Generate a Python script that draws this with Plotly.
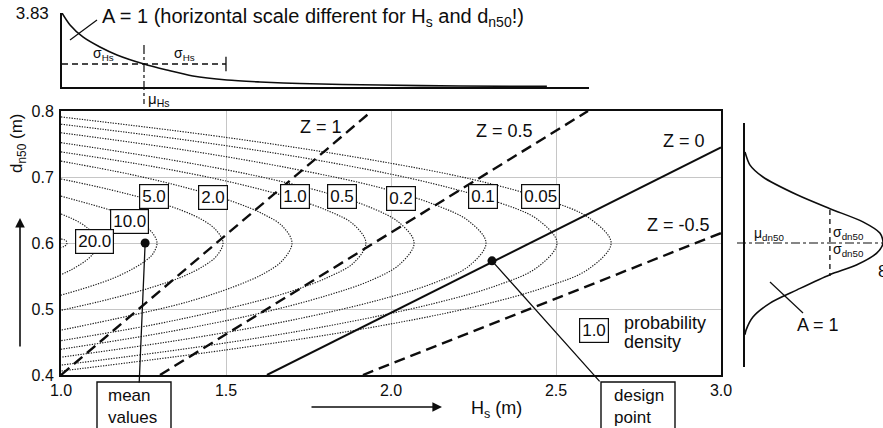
import plotly.graph_objects as go

W, H = 883, 428
FONT = "Liberation Sans, Arial, Helvetica, sans-serif"
INK = "#0d0d0d"

# ----------------------------- data -----------------------------
HS_TICKS = [1.0, 1.5, 2.0, 2.5, 3.0]
HS_TICK_TEXT = ["1.0", "1.5", "2.0", "2.5", "3.0"]
DN_TICKS = [0.4, 0.5, 0.6, 0.7, 0.8]
DN_TICK_TEXT = ["0.4", "0.5", "0.6", "0.7", "0.8"]

# iso-probability-density contours: upper arm -> tip (dn50 = 0.6) -> lower arm
HS_005 = [1.000, 1.500, 1.917, 2.250, 2.467, 2.600, 2.667, 2.600, 2.467, 2.250, 1.917, 1.500, 1.000]
DN_005 = [0.791, 0.760, 0.728, 0.696, 0.666, 0.638, 0.600, 0.561, 0.533, 0.503, 0.470, 0.438, 0.406]
HS_01 = [1.000, 1.451, 1.827, 2.127, 2.323, 2.443, 2.503, 2.443, 2.323, 2.127, 1.827, 1.451, 1.000]
DN_01 = [0.780, 0.751, 0.721, 0.690, 0.662, 0.636, 0.600, 0.563, 0.536, 0.508, 0.476, 0.445, 0.415]
HS_02 = [1.000, 1.386, 1.708, 1.966, 2.133, 2.236, 2.288, 2.236, 2.133, 1.966, 1.708, 1.386, 1.000]
DN_02 = [0.767, 0.740, 0.712, 0.684, 0.658, 0.633, 0.600, 0.565, 0.540, 0.514, 0.484, 0.455, 0.427]
HS_05 = [1.000, 1.321, 1.589, 1.803, 1.942, 2.027, 2.070, 2.027, 1.942, 1.803, 1.589, 1.321, 1.000]
DN_05 = [0.752, 0.727, 0.702, 0.676, 0.653, 0.630, 0.600, 0.568, 0.544, 0.520, 0.492, 0.465, 0.439]
HS_1 = [1.000, 1.277, 1.508, 1.693, 1.813, 1.887, 1.924, 1.887, 1.813, 1.693, 1.508, 1.277, 1.000]
DN_1 = [0.738, 0.716, 0.693, 0.669, 0.648, 0.628, 0.600, 0.570, 0.549, 0.526, 0.501, 0.476, 0.452]
HS_2 = [1.000, 1.210, 1.385, 1.525, 1.616, 1.672, 1.700, 1.672, 1.616, 1.525, 1.385, 1.210, 1.000]
DN_2 = [0.724, 0.704, 0.683, 0.662, 0.643, 0.625, 0.600, 0.574, 0.554, 0.534, 0.511, 0.490, 0.468]
HS_5 = [1.000, 1.147, 1.270, 1.368, 1.432, 1.471, 1.491, 1.471, 1.432, 1.368, 1.270, 1.147, 1.000]
DN_5 = [0.697, 0.681, 0.665, 0.649, 0.634, 0.619, 0.600, 0.580, 0.565, 0.549, 0.532, 0.515, 0.498]
HS_10 = [1.000, 1.087, 1.160, 1.218, 1.256, 1.279, 1.291, 1.279, 1.256, 1.218, 1.160, 1.087, 1.000]
DN_10 = [0.671, 0.659, 0.648, 0.636, 0.625, 0.614, 0.600, 0.584, 0.573, 0.561, 0.547, 0.534, 0.521]
HS_20 = [1.000, 1.033, 1.060, 1.082, 1.096, 1.105, 1.109, 1.105, 1.096, 1.082, 1.060, 1.033, 1.000]
DN_20 = [0.644, 0.637, 0.630, 0.622, 0.615, 0.609, 0.600, 0.590, 0.583, 0.576, 0.568, 0.560, 0.552]
HS_INNER = [1.000, 1.010, 1.016, 1.018, 1.016, 1.010, 1.000]
DN_INNER = [0.606, 0.605, 0.603, 0.600, 0.597, 0.595, 0.593]

CONTOUR_LABELS = ["0.05", "0.1", "0.2", "0.5", "1.0", "2.0", "5.0", "10.0", "20.0"]
LABEL_HS = [2.453, 2.279, 2.029, 1.850, 1.708, 1.462, 1.282, 1.208, 1.102]
LABEL_DN = [0.670, 0.670, 0.668, 0.670, 0.671, 0.669, 0.671, 0.633, 0.602]
LEGEND_LABEL = "1.0"
LEGEND_HS, LEGEND_DN = 2.615, 0.468

# limit-state lines
Z_LABELS = ["Z = 1", "Z = 0.5", "Z = 0", "Z = -0.5"]
Z_HS_START = [1.000, 1.300, 1.624, 1.915]
Z_DN_START = [0.400, 0.400, 0.400, 0.400]
Z_HS_END = [1.942, 2.597, 3.000, 3.000]
Z_DN_END = [0.800, 0.800, 0.745, 0.615]
Z_LABEL_HS = [1.788, 2.345, 2.888, 2.870]
Z_LABEL_DN = [0.776, 0.769, 0.755, 0.627]

MEAN_HS, MEAN_DN = 1.255, 0.600
DESIGN_HS, DESIGN_DN = 2.306, 0.573

# marginal density of Hs (top panel, own horizontal scale)
HS_PDF_X = [1.000, 1.025, 1.065, 1.118, 1.171, 1.255, 1.326, 1.407, 1.513, 1.616, 1.740, 1.989, 2.238, 2.508]
HS_PDF_Y = [3.83, 3.21, 2.59, 2.07, 1.66, 1.19, 0.88, 0.57, 0.36, 0.26, 0.18, 0.10, 0.05, 0.03]
HS_PDF_PEAK = 3.83
MU_HS_TOP = 1.255
SIGMA_HS_TOP = 0.255
HS_PDF_AT_MU = 1.19

# marginal density of dn50 (right panel)
DN_PDF_DN = [0.738, 0.718, 0.700, 0.673, 0.652, 0.632, 0.615, 0.600, 0.585, 0.567, 0.552, 0.529, 0.509, 0.488, 0.468, 0.461]
DN_PDF_VAL = [0.00, 0.29, 1.04, 3.01, 4.91, 6.82, 7.80, 7.98, 7.63, 6.47, 4.91, 3.01, 1.45, 0.46, 0.06, 0.00]
MU_DN = 0.600
SIGMA_DN = 0.050
DN_PDF_AT_SIGMA = 4.91
DN_PDF_PEAK = 7.98

# ----------------------------- helpers (layout positions) -----------------------------
def X(px):
    return px / W


def Y(py):
    return 1 - py / H


CONTOURS = [(HS_005, DN_005), (HS_01, DN_01), (HS_02, DN_02), (HS_05, DN_05), (HS_1, DN_1),
            (HS_2, DN_2), (HS_5, DN_5), (HS_10, DN_10), (HS_20, DN_20), (HS_INNER, DN_INNER)]

fig = go.Figure()

for hs, dn in CONTOURS:
    fig.add_trace(go.Scatter(
        x=hs, y=dn, mode="lines", hoverinfo="skip", showlegend=False,
        line=dict(color="#1a1a1a", width=1.15, dash="1.3px,1.3px", shape="spline", smoothing=1.0)))

for i in range(len(Z_LABELS)):
    solid = Z_LABELS[i] == "Z = 0"
    fig.add_trace(go.Scatter(
        x=[Z_HS_START[i], Z_HS_END[i]], y=[Z_DN_START[i], Z_DN_END[i]],
        mode="lines", hoverinfo="skip", showlegend=False,
        line=dict(color=INK, width=2.0 if solid else 2.4, dash="solid" if solid else "11px,6px")))

fig.add_trace(go.Scatter(x=[MEAN_HS, DESIGN_HS], y=[MEAN_DN, DESIGN_DN], mode="markers",
                         marker=dict(color=INK, size=9), hoverinfo="skip", showlegend=False))

# top panel: density of Hs
fig.add_trace(go.Scatter(x=HS_PDF_X, y=HS_PDF_Y, xaxis="x2", yaxis="y2", mode="lines",
                         line=dict(color=INK, width=1.6, shape="spline", smoothing=0.8),
                         hoverinfo="skip", showlegend=False))
fig.add_trace(go.Scatter(x=[MU_HS_TOP - SIGMA_HS_TOP, MU_HS_TOP + SIGMA_HS_TOP],
                         y=[HS_PDF_AT_MU, HS_PDF_AT_MU], xaxis="x2", yaxis="y2", mode="lines",
                         line=dict(color=INK, width=1.3, dash="6px,4px"), hoverinfo="skip", showlegend=False))
fig.add_trace(go.Scatter(x=[MU_HS_TOP + SIGMA_HS_TOP, MU_HS_TOP + SIGMA_HS_TOP],
                         y=[HS_PDF_AT_MU - 0.37, HS_PDF_AT_MU + 0.37], xaxis="x2", yaxis="y2", mode="lines",
                         line=dict(color=INK, width=1.3), hoverinfo="skip", showlegend=False))

# right panel: density of dn50
fig.add_trace(go.Scatter(x=DN_PDF_VAL, y=DN_PDF_DN, xaxis="x3", yaxis="y3", mode="lines",
                         line=dict(color=INK, width=1.6, shape="spline", smoothing=0.8),
                         hoverinfo="skip", showlegend=False))
fig.add_trace(go.Scatter(x=[DN_PDF_AT_SIGMA, DN_PDF_AT_SIGMA], y=[MU_DN + SIGMA_DN, MU_DN - SIGMA_DN],
                         xaxis="x3", yaxis="y3", mode="lines",
                         line=dict(color=INK, width=1.3, dash="5px,4px"), hoverinfo="skip", showlegend=False))

shapes = [
    # mu_Hs dash-dot marker (top panel)
    dict(type="line", xref="x2", yref="paper", x0=MU_HS_TOP, x1=MU_HS_TOP, y0=Y(45), y1=Y(104),
         line=dict(color=INK, width=1.2, dash="dashdot")),
    # mu_dn50 dash-dot marker (right panel)
    dict(type="line", xref="paper", yref="y3", x0=X(737), x1=1.0, y0=MU_DN, y1=MU_DN,
         line=dict(color=INK, width=1.2, dash="dashdot")),
    # pointer lines for A = 1
    dict(type="line", xref="paper", yref="paper", x0=X(70), y0=Y(40), x1=X(97), y1=Y(20),
         line=dict(color=INK, width=1.2)),
    dict(type="line", xref="paper", yref="paper", x0=X(770), y0=Y(282), x1=X(803), y1=Y(313),
         line=dict(color=INK, width=1.2)),
    # callout boxes
    dict(type="rect", xref="paper", yref="paper", x0=X(97), x1=X(171), y0=Y(382), y1=Y(445),
         line=dict(color=INK, width=1.4), fillcolor="white"),
    dict(type="rect", xref="paper", yref="paper", x0=X(601), x1=X(675), y0=Y(382), y1=Y(445),
         line=dict(color=INK, width=1.4), fillcolor="white"),
]

annotations = []


def txt(text, x, y, size=16, xanchor="center", yanchor="middle", xref="paper", yref="paper", **kw):
    annotations.append(dict(text=text, x=x, y=y, xref=xref, yref=yref, xanchor=xanchor,
                            yanchor=yanchor, showarrow=False, font=dict(size=size, color=INK, family=FONT), **kw))


# contour labels
for lab, hx, dy in zip(CONTOUR_LABELS, LABEL_HS, LABEL_DN):
    txt(lab, hx, dy, size=17, xref="x", yref="y", bgcolor="white", bordercolor=INK,
        borderwidth=1.2, borderpad=2)
txt(LEGEND_LABEL, LEGEND_HS, LEGEND_DN, size=17, xref="x", yref="y", bgcolor="white",
    bordercolor=INK, borderwidth=1.2, borderpad=2)
txt("probability", X(622), Y(323), size=18, xanchor="left")
txt("density", X(622), Y(342), size=18, xanchor="left")

for lab, hx, dy in zip(Z_LABELS, Z_LABEL_HS, Z_LABEL_DN):
    txt(lab, hx, dy, size=18, xref="x", yref="y")

# axis titles and arrows
txt("H<sub>s</sub> (m)", X(497), Y(409), size=18)
txt("d<sub>n50</sub> (m)", X(18), Y(143), size=17, textangle=-90)
annotations.append(dict(x=X(20), y=Y(218), xref="paper", yref="paper", ax=0, ay=130, text="",
                        showarrow=True, arrowhead=2, arrowsize=1.2, arrowwidth=1.6, arrowcolor=INK))
annotations.append(dict(x=X(442), y=Y(407), xref="paper", yref="paper", ax=-132, ay=0, text="",
                        showarrow=True, arrowhead=2, arrowsize=1.2, arrowwidth=1.6, arrowcolor=INK))

# callouts
txt("mean<br>values", X(106), Y(406), size=17, xanchor="left", align="left")
txt("design<br>point", X(612), Y(406), size=17, xanchor="left", align="left")
annotations.append(dict(x=MEAN_HS, y=MEAN_DN, xref="x", yref="y", ax=-6, ay=141, text="",
                        showarrow=True, arrowhead=0, arrowwidth=1.3, arrowcolor=INK,
                        standoff=0, startstandoff=0))
annotations.append(dict(x=DESIGN_HS, y=DESIGN_DN, xref="x", yref="y", ax=109, ay=122, text="",
                        showarrow=True, arrowhead=0, arrowwidth=1.3, arrowcolor=INK,
                        standoff=0, startstandoff=0))

# top panel texts
txt("A = 1 (horizontal scale different for H<sub>s</sub> and d<sub>n50</sub>!)", X(100), Y(18),
    size=20, xanchor="left")
txt("σ<sub>Hs</sub>", MU_HS_TOP - SIGMA_HS_TOP / 2, Y(54), size=14, xref="x2")
txt("σ<sub>Hs</sub>", MU_HS_TOP + SIGMA_HS_TOP / 2, Y(54), size=14, xref="x2")
txt("μ<sub>Hs</sub>", MU_HS_TOP, Y(99), size=15, xref="x2", xanchor="left", xshift=2)

# right panel texts
txt("μ<sub>dn50</sub>", X(752), Y(234), size=14, xanchor="left")
txt("σ<sub>dn50</sub>", X(831), Y(233), size=14, xanchor="left")
txt("σ<sub>dn50</sub>", X(831), Y(250), size=14, xanchor="left")
txt("A = 1", X(818), Y(325), size=18)
txt("8", X(876), Y(271), size=17, xanchor="left")

grid = "#c6c6c6"
fig.update_layout(
    template="none",
    width=W, height=H, margin=dict(l=0, r=0, t=0, b=0, pad=0), autosize=False,
    paper_bgcolor="white", plot_bgcolor="white", showlegend=False,
    font=dict(family=FONT, color=INK),
    xaxis=dict(domain=[X(61), X(721)], range=[1.0, 3.0], tickvals=HS_TICKS, ticktext=HS_TICK_TEXT,
               showgrid=True, gridcolor=grid, gridwidth=1, zeroline=False, showline=True, mirror=True,
               linecolor=INK, linewidth=2, ticks="", tickfont=dict(size=16, color=INK),
               ticklabelstandoff=0, anchor="y", automargin=False),
    yaxis=dict(domain=[Y(375), Y(111)], range=[0.4, 0.8], tickvals=DN_TICKS, ticktext=DN_TICK_TEXT,
               showgrid=True, gridcolor=grid, gridwidth=1, zeroline=False, showline=True, mirror=True,
               linecolor=INK, linewidth=2, ticks="", tickfont=dict(size=16, color=INK),
               ticklabelstandoff=2, anchor="x", automargin=False),
    xaxis2=dict(domain=[X(62), X(589)], range=[1.0, 2.639], showline=True, linecolor=INK, linewidth=1.6,
                showgrid=False, zeroline=False, showticklabels=False, ticks="", anchor="y2",
                automargin=False),
    yaxis2=dict(domain=[Y(87), Y(13)], range=[0, HS_PDF_PEAK], showline=True, linecolor=INK, linewidth=1.6,
                showgrid=False, zeroline=False, tickvals=[HS_PDF_PEAK], ticktext=["3.83"], ticks="",
                tickfont=dict(size=17, color=INK), ticklabelstandoff=8, anchor="x2", automargin=False),
    xaxis3=dict(domain=[X(745), 1.0], range=[0, DN_PDF_PEAK], showline=False, showgrid=False,
                zeroline=False, showticklabels=False, ticks="", anchor="y3", automargin=False),
    yaxis3=dict(domain=[Y(367), Y(123)], range=[0.8 - (367 - 111) / 660, 0.8 - (123 - 111) / 660],
                showline=True, linecolor=INK, linewidth=1.6, showgrid=False, zeroline=False,
                showticklabels=False, ticks="", anchor="x3", automargin=False),
    shapes=shapes, annotations=annotations,
)

fig.write_html("out.html", config={"displayModeBar": False},
               post_script="document.body.style.margin='0px';document.body.style.overflow='hidden';")
